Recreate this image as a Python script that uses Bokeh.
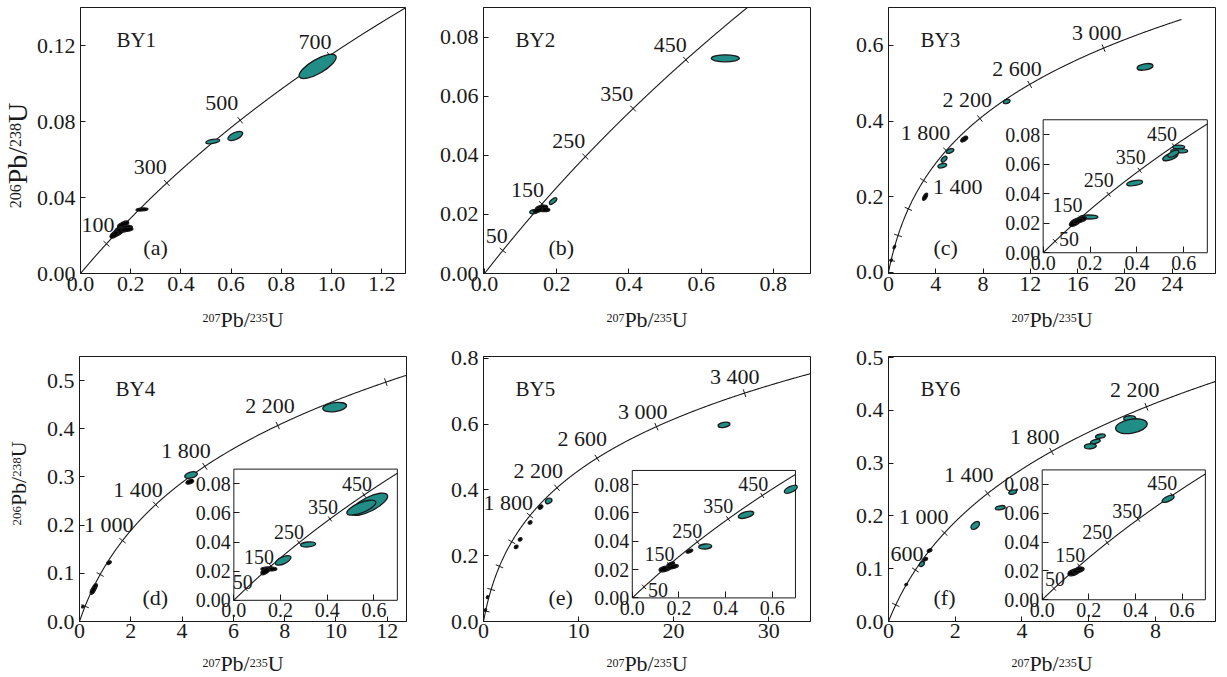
import numpy as np
from bokeh.plotting import figure
from bokeh.models import (Range1d, LinearAxis, FixedTicker, PrintfTickFormatter,
                          ColumnDataSource, LabelSet, Label)
from bokeh.layouts import column, row
from bokeh.embed import file_html
from bokeh.resources import INLINE

# decay constants (1/yr) defining the concordia reference curve
L238 = 1.55125e-10
L235 = 9.8485e-10

TEAL = "#208d87"
INK = "#1a1a1a"
FONT = "Liberation Serif"

# axis titles: (text, is_superscript) pieces
X_PARTS = [("207", True), ("Pb/", False), ("235", True), ("U", False)]
Y_PARTS = [("206", True), ("Pb/", False), ("238", True), ("U", False)]

# ---------------- data ----------------
names = ["BY1", "BY2", "BY3", "BY4", "BY5", "BY6"]
tags = ["(a)", "(b)", "(c)", "(d)", "(e)", "(f)"]

a_xticks = [0.0, 0.2, 0.4, 0.6, 0.8, 1.0, 1.2]
a_yticks = [0.0, 0.04, 0.08, 0.12]
b_xticks = [0.0, 0.2, 0.4, 0.6, 0.8]
b_yticks = [0.0, 0.02, 0.04, 0.06, 0.08]
c_xticks = [0, 4, 8, 12, 16, 20, 24]
c_yticks = [0.0, 0.2, 0.4, 0.6]
d_xticks = [0, 2, 4, 6, 8, 10, 12]
d_yticks = [0.0, 0.1, 0.2, 0.3, 0.4, 0.5]
e_xticks = [0, 10, 20, 30]
e_yticks = [0.0, 0.2, 0.4, 0.6, 0.8]
f_xticks = [0, 2, 4, 6, 8]
f_yticks = [0.0, 0.1, 0.2, 0.3, 0.4, 0.5]
in_xticks = [0.0, 0.2, 0.4, 0.6]
in_yticks = [0.0, 0.02, 0.04, 0.06, 0.08]
INSET_XR = (0.0, 0.7)
INSET_YR = (0.0, 0.09)

# concordia age marks (Ma) and labelled ages
a_ages = [100, 300, 500, 700]
b_ages = [50, 150, 250, 350, 450]
old_ages = [200, 600, 1000, 1400, 1800, 2200, 2600, 3000, 3400]
in_ages = [50, 150, 250, 350, 450]
a_lab = [100, 300, 500, 700]
b_lab = [50, 150, 250, 350, 450]
c_lab = [1400, 1800, 2200, 2600, 3000]
d_lab = [1000, 1400, 1800, 2200]
e_lab = [1800, 2200, 2600, 3000, 3400]
f_lab = [600, 1000, 1400, 1800, 2200]

# analyses: ellipse centres (207Pb/235U, 206Pb/238U), kind t=teal k=black
a_x = [0.945, 0.617, 0.527, 0.245, 0.170, 0.172, 0.150, 0.135, 0.185]
a_y = [0.1090, 0.0724, 0.0695, 0.0337, 0.0258, 0.0235, 0.0218, 0.0205, 0.0232]
a_k = ["t", "t", "t", "k", "k", "k", "k", "k", "k"]

b_x = [0.667, 0.190, 0.136, 0.158, 0.167, 0.148]
b_y = [0.0728, 0.0245, 0.0209, 0.0222, 0.0216, 0.0214]
b_k = ["t", "t", "t", "k", "k", "k"]

c_x = [21.7, 10.0, 5.2, 4.7, 4.55, 6.4, 3.1, 0.5, 0.23]
c_y = [0.543, 0.4516, 0.321, 0.299, 0.282, 0.352, 0.200, 0.067, 0.032]
c_k = ["t", "t", "t", "t", "t", "k", "k", "k", "k"]
ci_x = [0.195, 0.390, 0.542, 0.578, 0.580, 0.555, 0.135, 0.160, 0.150]
ci_y = [0.0242, 0.0472, 0.0650, 0.0715, 0.0689, 0.0670, 0.0205, 0.0225, 0.0215]
ci_k = ["t", "t", "t", "t", "t", "t", "k", "k", "k"]

d_x = [9.95, 4.35, 4.30, 1.15, 0.58, 0.52, 0.13]
d_y = [0.445, 0.304, 0.290, 0.122, 0.070, 0.064, 0.031]
d_k = ["t", "t", "k", "k", "k", "k", "k"]
di_x = [0.579, 0.546, 0.318, 0.211, 0.150, 0.135]
di_y = [0.0659, 0.0636, 0.0383, 0.0274, 0.0215, 0.0200]
di_k = ["t", "t", "t", "t", "k", "k"]

e_x = [25.3, 6.85, 6.0, 4.9, 3.86, 3.44, 0.42, 0.20]
e_y = [0.598, 0.367, 0.348, 0.301, 0.250, 0.227, 0.074, 0.035]
e_k = ["t", "t", "k", "k", "k", "k", "k", "k"]
ei_x = [0.680, 0.488, 0.313, 0.245, 0.140, 0.172, 0.165]
ei_y = [0.0767, 0.0587, 0.0363, 0.0330, 0.0205, 0.0220, 0.0240]
ei_k = ["t", "t", "t", "k", "k", "k", "k"]

f_x = [7.23, 7.28, 6.35, 6.20, 6.05, 3.72, 3.35, 2.60, 1.00, 1.23, 1.10, 0.53]
f_y = [0.385, 0.370, 0.351, 0.341, 0.332, 0.245, 0.2155, 0.182, 0.109, 0.1345, 0.118, 0.070]
f_k = ["t", "t", "t", "t", "t", "t", "t", "t", "t", "k", "k", "k"]
fi_x = [0.540, 0.135, 0.155, 0.160]
fi_y = [0.0700, 0.0190, 0.0205, 0.0215]
fi_k = ["t", "k", "k", "k"]

# ---------------- styling (screen sizes / angles / offsets) ----------------
a_sz = ([42, 16, 14, 12, 12, 18, 14, 10, 12], [14, 7, 4, 3, 5, 6, 6, 5, 4], [30, 25, 10, 5, 25, 12, 30, 35, 5])
b_sz = ([28, 9, 8, 12, 10, 10], [7, 4, 4, 5, 4, 4], [0, 40, 10, 10, 0, 15])
c_sz = ([16, 7, 8, 7, 9, 8, 8, 4, 3], [6, 4, 4, 4, 4, 4, 3.5, 2, 2], [10, 20, 20, 45, 15, 35, 60, 60, 60])
ci_sz = ([18, 16, 16, 12, 17, 12, 12, 12, 10], [4, 5, 6, 4, 4, 5, 6, 5, 4], [0, 10, 20, 0, 0, 25, 30, 15, 20])
d_sz = ([24, 13, 8, 5, 9, 8, 3], [9, 6, 4, 3, 4, 4, 2], [8, 15, 20, 30, 60, 60, 60])
di_sz = ([41, 31, 15, 17, 16, 10], [14, 10, 5, 7, 4, 5], [27, 22, 5, 25, 0, 35])
e_sz = ([12, 7, 5, 4, 4, 4, 3, 3], [5, 5, 3.5, 3, 3, 3, 2, 2], [10, 30, 45, 30, 30, 30, 60, 60])
ei_sz = ([14, 16, 13, 7, 12, 12, 8], [6, 6, 5, 3, 5, 4, 3], [25, 15, 5, 20, 15, 10, 20])
f_sz = ([12, 32, 10, 10, 12, 8, 10, 10, 6, 5, 5, 3], [5, 14, 4, 4, 5, 4, 4, 6, 4, 3, 3, 2],
        [5, 10, 10, 15, 5, 15, 10, 40, 40, 30, 30, 30])
fi_sz = ([13, 12, 12, 8], [5, 6, 5, 3], [25, 20, 15, 10])

a_off = [(8, 12), (0, 9), (-2, 10), (2, 7)]
b_off = [(5, 7), (2, 7), (0, 9), (0, 8), (1, 8)]
c_off = [(59, -13), (4, 10), (12, 11), (12, 8), (18, 8)]
d_off = [(11, 9), (7, 8), (6, 8), (17, 13)]
e_off = [(3, 6), (6, 10), (10, 12), (11, 8), (15, 9)]
f_off = [(8, 9), (4, 9), (6, 11), (8, 7), (13, 10)]
ci_off = [(24, -5), (2, 6), (5, 7), (6, 6), (3, 5)]
di_off = [(7, 0), (3, 2), (5, 4), (8, 5), (8, 4)]
ei_off = [(24, -10), (5, 4), (5, 4), (5, 6), (6, 5)]
fi_off = [(11, 3), (6, 4), (5, 4), (4, 1), (5, 5)]

# Times/Liberation Serif advance widths (em) and descent
ADV = {"P": 0.556, "b": 0.5, "/": 0.278, "U": 0.722}
DESC = 0.216


def conc(t_ma):
    t = np.asarray(t_ma, dtype=float) * 1e6
    return np.expm1(L235 * t), np.expm1(L238 * t)


def conc_angle(t_ma, sx, sy):
    t = np.asarray(t_ma, dtype=float) * 1e6
    dx = L235 * np.exp(L235 * t) * sx
    dy = L238 * np.exp(L238 * t) * sy
    return np.degrees(np.arctan2(dy, dx))


def age_text(a):
    return f"{a // 1000} {a % 1000:03d}" if a >= 1000 else str(a)


def adv(s, fs):
    return sum(ADV.get(ch, 0.5) for ch in s) * fs


def style_axis(ax, size, ticks, fmt, tick_in, standoff):
    ax.ticker = FixedTicker(ticks=ticks)
    ax.formatter = PrintfTickFormatter(format=fmt)
    ax.major_tick_in = tick_in
    ax.major_tick_out = 0
    ax.minor_tick_in = 0
    ax.minor_tick_out = 0
    ax.major_tick_line_color = INK
    ax.axis_line_color = INK
    ax.major_label_text_font = FONT
    ax.major_label_text_font_size = size
    ax.major_label_text_color = INK
    ax.major_label_standoff = standoff


def strip(W, H, bl=0, br=0):
    """Blank title strip; its frame spans [bl, W-br] horizontally and the full height.
    Coordinates inside are pixels from the frame's bottom-left corner."""
    s = figure(width=W, height=H, x_range=Range1d(0, W - bl - br), y_range=Range1d(0, H),
               output_backend="svg", toolbar_location=None,
               min_border_left=bl, min_border_right=br, min_border_top=0, min_border_bottom=0,
               x_axis_type=None, y_axis_type=None)
    s.outline_line_color = None
    s.background_fill_color = "white"
    s.border_fill_color = "white"
    return s


def iso_title(s, parts, center, base, big, small, rise, vertical):
    """Axis title with raised mass numbers, in pixel coordinates of the strip frame.
    base = text baseline (y for horizontal, x for vertical)."""
    total = sum(adv(t, small if sup else big) for t, sup in parts)
    pos = center - total / 2.0
    for t, sup in parts:
        fs = small if sup else big
        bl = base + (rise if sup else 0) * (-1 if vertical else 1)
        if vertical:
            s.add_layout(Label(x=bl + DESC * fs, y=pos, text=t, angle=90,
                               angle_units="deg", text_font=FONT, text_font_size=f"{fs}px",
                               text_color=INK, text_align="left", text_baseline="bottom"))
        else:
            s.add_layout(Label(x=pos, y=bl - DESC * fs, text=t, text_font=FONT,
                               text_font_size=f"{fs}px", text_color=INK, text_align="left",
                               text_baseline="bottom"))
        pos += adv(t, fs)


def draw_set(p, xs, ys, ks, sz, ages, lab, offs, sx, sy, tmax, lab_size, tick_size, **rn):
    t = np.linspace(0, tmax, 900)
    cx, cy = conc(t)
    p.line(cx, cy, line_color=INK, line_width=1.1, **rn)
    tx, ty = conc(ages)
    p.scatter(tx, ty, marker="dash", size=tick_size, angle=conc_angle(ages, sx, sy) + 90,
              angle_units="deg", line_color=INK, line_width=1, **rn)
    src = ColumnDataSource(dict(x=xs, y=ys, w=sz[0], h=sz[1], a=sz[2],
                                c=[TEAL if k == "t" else "black" for k in ks]))
    p.ellipse(x="x", y="y", width="w", height="h", angle="a", angle_units="deg",
              width_units="screen", height_units="screen", fill_color="c",
              line_color=INK, line_width=1.3, source=src, **rn)
    lx, ly = conc(lab)
    lsrc = ColumnDataSource(dict(x=lx, y=ly, text=[age_text(v) for v in lab],
                                 dx=[o[0] for o in offs], dy=[o[1] for o in offs]))
    p.add_layout(LabelSet(x="x", y="y", text="text", source=lsrc, x_offset="dx", y_offset="dy",
                          text_align="right", text_baseline="alphabetic", text_font=FONT,
                          text_font_size=lab_size, text_color=INK, **rn))


YSTRIP_W = 33
# row geometry: (figure height, top border, bottom border, title strip height, title baseline)
R1 = (303, 7, 30, 37, 13)
R2 = (310, 16, 29, 26, 5.5)

panels = [
    dict(box=(392, 46, 20), rb=R1, xr=(0.0, 1.295), yr=(0.0, 0.14), xt=a_xticks, xf="%.1f",
         yt=a_yticks, yf="%.2f", tmax=900, ages=a_ages, lab=a_lab, offs=a_off,
         data=(a_x, a_y, a_k, a_sz), name_px=(36, 32), tag_px=(63, 26), r=1),
    dict(box=(410, 58, 25), rb=R1, xr=(-0.003, 0.903), yr=(0.0, 0.09), xt=b_xticks, xf="%.1f",
         yt=b_yticks, yf="%.2f", tmax=600, ages=b_ages, lab=b_lab, offs=b_off,
         data=(b_x, b_y, b_k, b_sz), name_px=(32, 32), tag_px=(65, 26), r=1),
    dict(box=(391, 53, 11), rb=R1, xr=(0.0, 27.66), yr=(-0.003, 0.70), xt=c_xticks, xf="%d",
         yt=c_yticks, yf="%.1f", tmax=3300, ages=old_ages[:-1], lab=c_lab, offs=c_off,
         data=(c_x, c_y, c_k, c_sz), name_px=(32, 32), tag_px=(45, 26), r=1,
         inset=dict(frac=(0.473, 0.975, 0.078, 0.578), data=(ci_x, ci_y, ci_k, ci_sz), offs=ci_off)),
    dict(box=(392, 46, 19), rb=R2, xr=(0.0, 12.75), yr=(0.0, 0.55), xt=d_xticks, xf="%d",
         yt=d_yticks, yf="%.1f", tmax=3300, ages=old_ages[:-2], lab=d_lab, offs=d_off,
         data=(d_x, d_y, d_k, d_sz), name_px=(36, 32), tag_px=(63, 24), r=2,
         inset=dict(frac=(0.472, 0.972, 0.080, 0.575), data=(di_x, di_y, di_k, di_sz), offs=di_off)),
    dict(box=(410, 58, 25), rb=R2, xr=(0.0, 34.4), yr=(0.0, 0.806), xt=e_xticks, xf="%d",
         yt=e_yticks, yf="%.1f", tmax=3700, ages=old_ages, lab=e_lab, offs=e_off,
         data=(e_x, e_y, e_k, e_sz), name_px=(32, 32), tag_px=(65, 24), r=2,
         inset=dict(frac=(0.455, 0.954, 0.089, 0.570), data=(ei_x, ei_y, ei_k, ei_sz), offs=ei_off)),
    dict(box=(391, 53, 11), rb=R2, xr=(0.0, 9.8), yr=(0.0, 0.502), xt=f_xticks, xf="%d",
         yt=f_yticks, yf="%.1f", tmax=2700, ages=old_ages[:-3], lab=f_lab, offs=f_off,
         data=(f_x, f_y, f_k, f_sz), name_px=(32, 32), tag_px=(45, 24), r=2,
         inset=dict(frac=(0.470, 0.969, 0.082, 0.572), data=(fi_x, fi_y, fi_k, fi_sz), offs=fi_off)),
]


def build(i, cfg):
    W, bl, br = cfg["box"]
    H, bt, bb, sh, sbase = cfg["rb"]
    fw, fh = W - bl - br, H - bt - bb
    x0, x1 = cfg["xr"]
    y0, y1 = cfg["yr"]
    sx, sy = fw / (x1 - x0), fh / (y1 - y0)

    def to_data(px, py):
        return x0 + px / sx, y0 + py / sy

    p = figure(width=W, height=H, x_range=Range1d(x0, x1), y_range=Range1d(y0, y1),
               output_backend="svg", toolbar_location=None,
               min_border_left=bl, min_border_right=br, min_border_top=bt, min_border_bottom=bb)
    p.grid.visible = False
    p.outline_line_color = INK
    p.outline_line_width = 1
    p.background_fill_color = "white"
    p.border_fill_color = "white"

    row1 = cfg["r"] == 1
    style_axis(p.xaxis[0], "22px", cfg["xt"], cfg["xf"], 5, 3 if row1 else 2)
    style_axis(p.yaxis[0], "22px", cfg["yt"], cfg["yf"], 5, 5)

    xs, ys, ks, sz = cfg["data"]
    draw_set(p, xs, ys, ks, sz, cfg["ages"], cfg["lab"], cfg["offs"], sx, sy,
             cfg["tmax"], "22px", 8)

    nx, ny = cfg["name_px"]
    nxd, nyd = to_data(nx, fh - ny)
    p.add_layout(Label(x=nxd, y=nyd, text=names[i], text_font=FONT,
                       text_font_size="21px", text_baseline="alphabetic", text_color=INK))
    tx_, ty_ = cfg["tag_px"]
    txd, tyd = to_data(tx_, ty_)
    p.add_layout(Label(x=txd, y=tyd, text=tags[i], text_font=FONT,
                       text_font_size="22px", text_baseline="alphabetic", text_color=INK))

    ins = cfg.get("inset")
    if ins:
        fl, fr, fb, ft = ins["frac"]
        ix0, ix1 = INSET_XR
        iy0, iy1 = INSET_YR
        kx = (ix1 - ix0) / (fr - fl)
        ky = (iy1 - iy0) / (ft - fb)
        p.extra_x_ranges = {"ix": Range1d(ix0 - fl * kx, ix1 + (1 - fr) * kx)}
        p.extra_y_ranges = {"iy": Range1d(iy0 - fb * ky, iy1 + (1 - ft) * ky)}
        isx, isy = fw / kx, fh / ky
        rn = dict(x_range_name="ix", y_range_name="iy")
        p.quad(left=[ix0], right=[ix1], bottom=[iy0], top=[iy1], fill_color="white",
               line_color=INK, line_width=1, **rn)
        t_end = np.log1p(ix1) / L235 / 1e6
        ixs, iys, iks, isz = ins["data"]
        draw_set(p, ixs, iys, iks, isz, in_ages, in_ages, ins["offs"], isx, isy,
                 t_end, "20px", 6, **rn)
        bx = LinearAxis(fixed_location=iy0, bounds=INSET_XR, **rn)
        style_axis(bx, "20px", in_xticks, "%.1f", 6, 3)
        bx.axis_line_color = None
        p.add_layout(bx, "below")
        by = LinearAxis(fixed_location=ix0, bounds=INSET_YR, **rn)
        style_axis(by, "20px", in_yticks, "%.2f", 6, 3)
        by.axis_line_color = None
        p.add_layout(by, "left")

    # x-axis title strip below the panel (frame aligned with the panel frame)
    s = strip(W, sh, bl, br)
    iso_title(s, X_PARTS, fw / 2.0, sbase, 22, 12, 8 if row1 else 7, False)
    return column(p, s)


cols = [build(i, c) for i, c in enumerate(panels)]

# y-axis title strips (left of panels a and d)
y1s = strip(YSTRIP_W, R1[0] + R1[3])
iso_title(y1s, Y_PARTS, 185, 26, 28, 16, 9, True)
y2s = strip(YSTRIP_W, R2[0] + R2[3])
iso_title(y2s, Y_PARTS, 193, 26, 22, 13, 8, True)

p = column(row(y1s, cols[0], cols[1], cols[2]), row(y2s, cols[3], cols[4], cols[5]))

open("out.html", "w").write(file_html(p, INLINE))
